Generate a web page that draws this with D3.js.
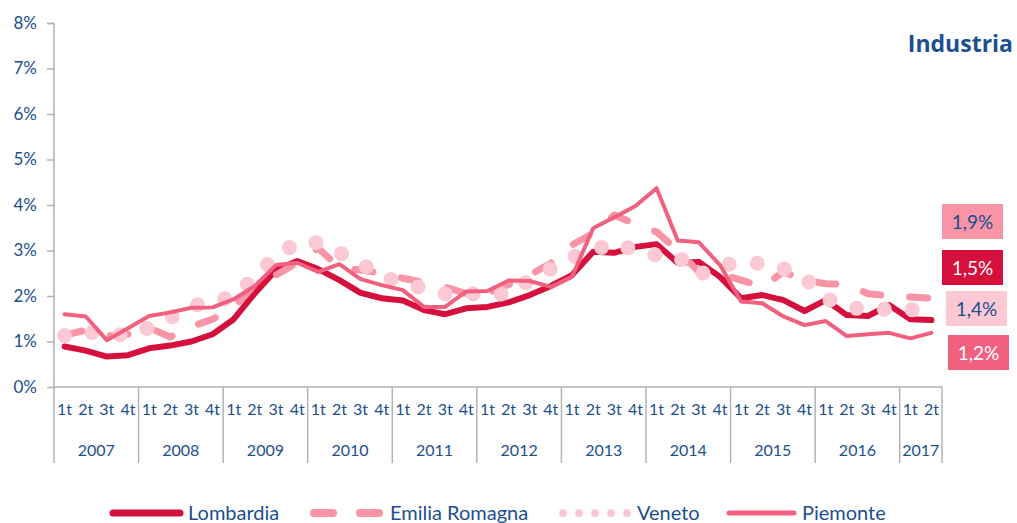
<!DOCTYPE html>
<html><head><meta charset="utf-8">
<script src="https://cdn.jsdelivr.net/npm/d3@7"></script>
<style>
body{margin:0;background:#fff;}
svg{display:block;font-family:Lato,"Open Sans",sans-serif;}
</style></head>
<body><svg id="c" width="1017" height="523"></svg>
<script>
const years = ["2007","2008","2009","2010","2011","2012","2013","2014","2015","2016","2017"];
const quartersPerYear = [4,4,4,4,4,4,4,4,4,4,2];
const quarterNames = ["1t","2t","3t","4t"];
const yTicks = [0,1,2,3,4,5,6,7,8];

const lombardia = [0.89,0.80,0.67,0.70,0.85,0.91,1.00,1.16,1.49,2.06,2.57,2.77,2.59,2.35,2.07,1.95,1.90,1.69,1.60,1.73,1.76,1.86,2.02,2.22,2.46,2.97,2.95,3.08,3.14,2.73,2.75,2.42,1.95,2.02,1.91,1.67,1.91,1.58,1.56,1.80,1.49,1.47];
const emilia = [1.14,1.25,1.12,1.16,1.30,1.10,1.33,1.49,1.75,2.25,2.46,2.73,3.05,2.62,2.57,2.50,2.39,2.30,2.20,2.05,2.06,2.25,2.46,2.72,3.12,3.38,3.78,3.58,3.41,3.00,2.53,2.48,2.35,2.20,2.53,2.35,2.27,2.26,2.05,2.00,1.98,1.95];
const veneto = [1.13,1.22,1.15,1.15,1.30,1.52,1.77,1.90,1.97,2.42,2.88,3.17,3.17,2.95,2.72,2.43,2.28,2.17,2.05,2.05,2.05,2.04,2.35,2.60,2.85,3.00,3.17,3.00,2.90,2.88,2.46,2.68,2.72,2.72,2.60,2.40,1.95,1.77,1.68,1.72,1.72,1.48];
const piemonte = [1.60,1.55,1.03,1.29,1.56,1.64,1.74,1.75,1.93,2.22,2.68,2.73,2.53,2.70,2.37,2.24,2.13,1.76,1.76,2.10,2.11,2.34,2.33,2.20,2.42,3.49,3.73,3.98,4.37,3.22,3.18,2.68,1.88,1.84,1.55,1.36,1.45,1.12,1.16,1.19,1.07,1.19];
const seriesNames = ["Lombardia","Emilia Romagna","Veneto","Piemonte"];
const endLabels = ["1,5%","1,9%","1,4%","1,2%"];
const title = "Industria";

const TXT = "#1b4f8f";
const AX = "#b3b3b3";
const styles = [
  {color:"#d5103c", width:6, dash:null},
  {color:"#f894a5", width:7, dash:"18 29"},
  {color:"#fbc8d3", width:15, dash:"0 28"},
  {color:"#f2607f", width:4, dash:null}
];
const data = [lombardia, emilia, veneto, piemonte];

const svg = d3.select("#c");
const keys = [];
years.forEach((y,i)=>{ for(let q=0;q<quartersPerYear[i];q++) keys.push(y+"-"+q); });

const x = d3.scaleBand().domain(keys).range([54,942]).padding(0);
const y = d3.scaleLinear().domain([0,8]).range([387,23]);

// y axis
const yAxis = d3.axisLeft(y).tickValues(yTicks).tickFormat(d=>d+"%").tickSize(7).tickPadding(10);
const gy = svg.append("g").attr("transform","translate(54,0)").call(yAxis);
gy.select(".domain").attr("stroke",AX).attr("stroke-width",1.5).attr("d","M-7,23.5H0V387");
gy.selectAll(".tick line").attr("stroke",AX).attr("stroke-width",1.5);
gy.selectAll(".tick text").attr("fill",TXT).attr("font-size",17).attr("font-family","Lato,sans-serif");

// x axis
svg.append("line").attr("x1",54).attr("x2",942).attr("y1",387).attr("y2",387).attr("stroke",AX).attr("stroke-width",1.5);
const gx = svg.append("g").attr("transform","translate(0,387)").call(d3.axisBottom(x).tickSize(0).tickFormat(k=>quarterNames[+k.split("-")[1]]).tickPadding(17));
gx.select(".domain").remove();
gx.selectAll(".tick text").attr("fill",TXT).attr("font-size",16).attr("font-family","Lato,sans-serif");

// year separators & labels
let idx = 0;
const bounds = [x(keys[0])];
years.forEach((yr,i)=>{
  const start = x(keys[idx]);
  idx += quartersPerYear[i];
  const end = x(keys[idx-1]) + x.bandwidth();
  bounds.push(end);
  svg.append("text").attr("x",(start+end)/2).attr("y",456).attr("text-anchor","middle")
    .attr("fill",TXT).attr("font-size",16).text(yr);
});
bounds.forEach(b=>{
  svg.append("line").attr("x1",b).attr("x2",b).attr("y1",387).attr("y2",463).attr("stroke",AX).attr("stroke-width",1.5);
});

// lines
const line = d3.line().x((d,i)=>x(keys[i])+x.bandwidth()/2).y(d=>y(d)).curve(d3.curveLinear);
[0,1,2,3].forEach(si=>{
  const st = styles[si];
  const p = svg.append("path").datum(data[si]).attr("d",line).attr("fill","none")
    .attr("stroke",st.color).attr("stroke-width",st.width)
    .attr("stroke-linejoin","round").attr("stroke-linecap","round");
  if(st.dash) p.attr("stroke-dasharray",st.dash);
});

// end labels
const boxes = [
  {s:1, x:942, y:204, fill:"#f894a5", tc:TXT},
  {s:0, x:942, y:250, fill:"#d5103c", tc:"#fff"},
  {s:2, x:946, y:291, fill:"#fbc8d3", tc:TXT},
  {s:3, x:948, y:335, fill:"#f2607f", tc:"#fff"}
];
boxes.forEach(b=>{
  svg.append("rect").attr("x",b.x).attr("y",b.y).attr("width",61).attr("height",35).attr("fill",b.fill);
  svg.append("text").attr("x",b.x+30.5).attr("y",b.y+24.5).attr("text-anchor","middle")
    .attr("fill",b.tc).attr("font-size",19).text(endLabels[b.s]);
});

// title
svg.append("text").attr("x",1013).attr("y",52).attr("text-anchor","end").attr("fill",TXT)
  .attr("font-size",23).attr("font-weight","bold").attr("font-family","'Open Sans',sans-serif").text(title);

// legend
const leg = [
  {s:0, x1:110, x2:183, tx:188},
  {s:1, x1:310, x2:384, tx:390},
  {s:2, x1:559, x2:631, tx:637},
  {s:3, x1:726, x2:797, tx:802}
];
leg.forEach(l=>{
  const st = styles[l.s];
  const ln = svg.append("line").attr("y1",513).attr("y2",513)
    .attr("stroke",st.color).attr("stroke-linecap","round");
  if(l.s===0){ln.attr("x1",l.x1+3).attr("x2",l.x2-3).attr("stroke-width",7);}
  if(l.s===3){ln.attr("x1",l.x1+3).attr("x2",l.x2-3).attr("stroke-width",5);}
  if(l.s===1){ln.attr("x1",l.x1+4).attr("x2",l.x2-4).attr("stroke-width",8).attr("stroke-dasharray","19 27");}
  if(l.s===2){ln.attr("x1",l.x1+4).attr("x2",l.x2-2).attr("stroke-width",8).attr("stroke-dasharray","0 16");}
  svg.append("text").attr("x",l.tx).attr("y",520).attr("fill",TXT).attr("font-size",20).text(seriesNames[l.s]);
});
</script>
</body></html>
